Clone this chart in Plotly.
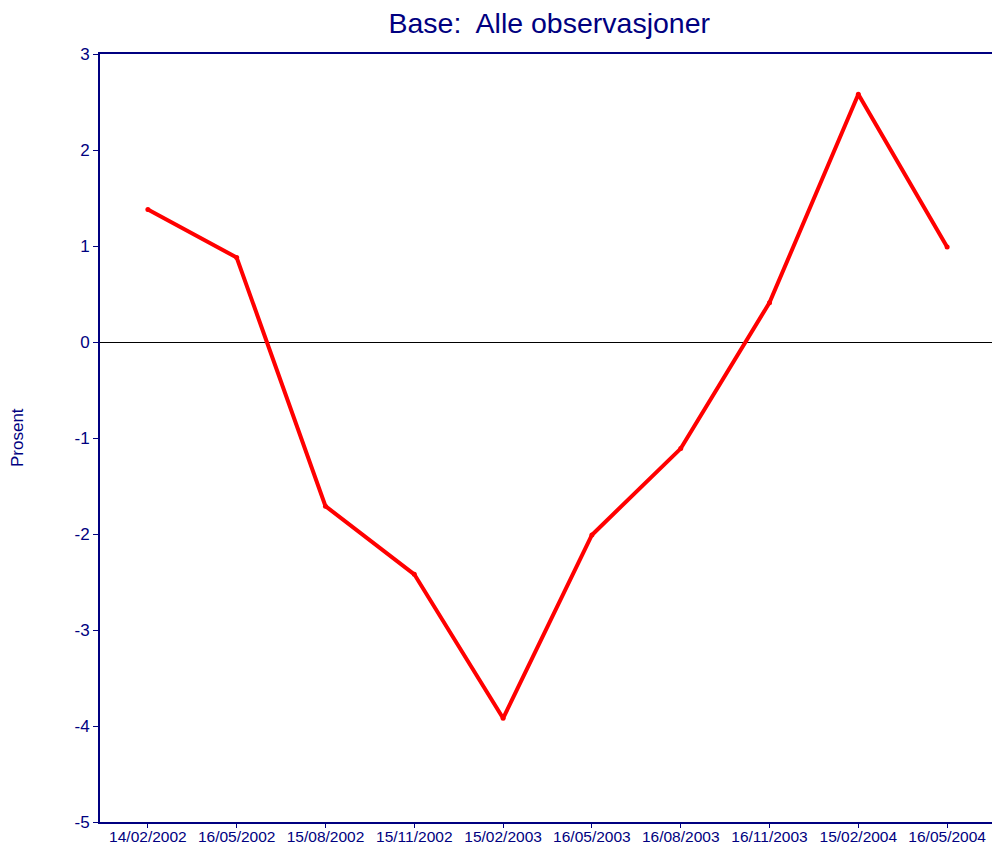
import plotly.graph_objects as go

dates = ["14/02/2002", "16/05/2002", "15/08/2002", "15/11/2002", "15/02/2003",
         "16/05/2003", "16/08/2003", "16/11/2003", "15/02/2004", "16/05/2004"]
prosent = [1.38, 0.88, -1.71, -2.42, -3.92, -2.01, -1.11, 0.41, 2.58, 0.99]
y_ticks = [-5, -4, -3, -2, -1, 0, 1, 2, 3]
y_labels = ["-5", "-4", "-3", "-2", "-1", "0", "1", "2", "3"]

navy = "#000080"

fig = go.Figure()
fig.add_trace(go.Scatter(x=dates, y=prosent, mode="lines+markers",
                         line=dict(color="#ff0000", width=4),
                         marker=dict(color="#ff0000", size=5)))

# plot area runs slightly past the right edge of the window, as in the original
fig.update_layout(
    width=995, height=845,
    margin=dict(l=100, r=0, t=54, b=23),
    plot_bgcolor="white", paper_bgcolor="white",
    showlegend=False,
    font=dict(family="Liberation Sans, Arial", color=navy),
    title=dict(text="Base:&nbsp; Alle observasjoner", x=0.552, xanchor="center",
               y=0.973, yanchor="middle", font=dict(size=28.5, color=navy)),
)
fig.update_xaxes(type="category", showgrid=False, showline=True, linecolor=navy,
                 linewidth=2, mirror=True, ticks="outside", ticklen=4,
                 tickcolor=navy, tickfont=dict(size=15.5, color=navy),
                 ticklabelstandoff=-5, automargin=False)
fig.update_yaxes(range=[-5, 3], tickvals=y_ticks, ticktext=y_labels,
                 showgrid=False, showline=True,
                 linecolor=navy, linewidth=2, ticks="outside", ticklen=5,
                 tickcolor=navy, tickfont=dict(size=17, color=navy),
                 zeroline=True, zerolinecolor="black", zerolinewidth=1,
                 automargin=False)
fig.add_annotation(text="Prosent", textangle=-90, xref="paper", yref="paper",
                   x=0, y=0.5, xanchor="center", yanchor="middle", xshift=-83,
                   showarrow=False, font=dict(size=17, color=navy))

fig.write_html("out.html", config={"displayModeBar": False},
               post_script="document.body.style.margin='0';"
                           "document.body.style.overflow='hidden';")
